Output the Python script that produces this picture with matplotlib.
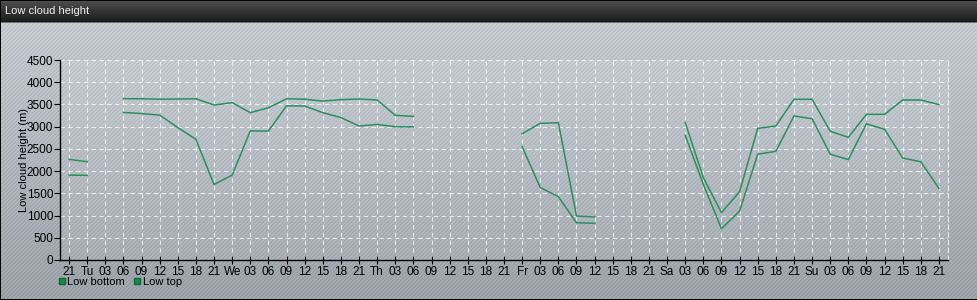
import numpy as np
import matplotlib
matplotlib.use("Agg")
import matplotlib.pyplot as plt
from matplotlib.lines import Line2D

nan = np.nan

tick_labels = ['21', 'Tu', '03', '06', '09', '12', '15', '18',
               '21', 'We', '03', '06', '09', '12', '15', '18',
               '21', 'Th', '03', '06', '09', '12', '15', '18',
               '21', 'Fr', '03', '06', '09', '12', '15', '18',
               '21', 'Sa', '03', '06', '09', '12', '15', '18',
               '21', 'Su', '03', '06', '09', '12', '15', '18', '21']

low_bottom = [1910, 1905, nan, 3320, 3295, 3260, 2980, 2715,
              1700, 1910, 2905, 2900, 3470, 3465, 3315, 3205,
              3015, 3050, 3000, 2995, nan, nan, nan, nan,
              nan, 2550, 1630, 1425, 840, 825, nan, nan,
              nan, nan, 2805, 1700, 705, 1100, 2380, 2445,
              3240, 3180, 2380, 2260, 3065, 2940, 2295, 2210, 1610]

low_top = [2265, 2210, nan, 3630, 3628, 3618, 3622, 3628,
           3487, 3540, 3315, 3425, 3628, 3618, 3575, 3608,
           3622, 3600, 3255, 3232, nan, nan, nan, nan,
           nan, 2843, 3075, 3088, 990, 968, nan, nan,
           nan, nan, 3090, 1853, 1065, 1538, 2962, 3015,
           3616, 3616, 2896, 2760, 3278, 3278, 3600, 3600, 3496]

W, H = 978, 300
fig = plt.figure(figsize=(W / 100, H / 100), dpi=100)

left, right, top, bottom = 60, 948, 60, 260

# background image: gradient with fine diagonal stripes and title bar
yy, xx = np.mgrid[0:H, 0:W]
t = yy / (H - 1)
base = np.stack([206 - 44 * t, 210 - 43 * t, 214 - 42 * t], axis=-1)
stripe = ((xx + yy) % 4 < 1.5).astype(float)
img = base - np.array([14, 11, 7]) * stripe[..., None]
inside = (xx >= left) & (xx <= right) & (yy >= top) & (yy <= bottom)
img = np.where(inside[..., None], img + 6, img)
bar = yy < 22
tb = yy / 22.0
bar_col = np.stack([78 - 52 * tb, 78 - 52 * tb, 78 - 52 * tb], axis=-1)
img = np.where(bar[..., None], bar_col, img)
img[22, :, :] = 110
img[0, :, :] = 0
img[-1, :, :] = 0
img[:, 0, :] = 0
img[:, -1, :] = 0
img = np.clip(img, 0, 255).astype(np.uint8)
bg = fig.add_axes([0, 0, 1, 1], zorder=-10)
bg.imshow(img, aspect='auto', interpolation='nearest')
bg.axis('off')

fig.text(5 / W, 1 - 11 / H, 'Low cloud height', color='#f0f0f0',
         fontsize=8, va='center', ha='left', family='Liberation Sans')

ax = fig.add_axes([left / W, 1 - bottom / H, (right - left) / W, (bottom - top) / H])
ax.set_facecolor('none')

x = np.arange(len(tick_labels))
green = '#2a9060'
ax.plot(x, low_bottom, color=green, lw=1.1)
ax.plot(x, low_top, color=green, lw=1.1)

ax.set_xlim(-0.5, len(tick_labels) - 0.5)
ax.set_ylim(0, 4500)
ax.set_xticks(x)
ax.set_xticklabels(tick_labels)
ax.set_yticks(np.arange(0, 4501, 500))
ax.grid(True, color='white', ls=(0, (4, 3)), lw=0.8, alpha=0.7)
ax.spines['top'].set_visible(False)
ax.spines['right'].set_color('white')
ax.spines['right'].set_alpha(0.7)
ax.spines['right'].set_linestyle((0, (4, 3)))
ax.spines['right'].set_linewidth(0.8)
for s in ['left', 'bottom']:
    ax.spines[s].set_color('black')
    ax.spines[s].set_linewidth(1.0)
ax.tick_params(axis='x', direction='inout', length=6, width=0.8, pad=1,
               labelsize=8.5, colors='black')
ax.tick_params(axis='y', direction='out', length=4, width=0.8, pad=1,
               labelsize=8.5, colors='black')
for lbl in ax.get_xticklabels() + ax.get_yticklabels():
    lbl.set_family('Liberation Sans')
ax.set_ylabel('Low cloud height (m)', fontsize=8, family='Liberation Sans')
ax.yaxis.set_label_coords((29 - left) / (right - left), 0.5)

handles = [Line2D([], [], marker='s', ls='none', color='#1a8a4a', markersize=5,
                  markeredgecolor='#0e6a30'),
           Line2D([], [], marker='s', ls='none', color='#1a8a4a', markersize=5,
                  markeredgecolor='#0e6a30')]
fig.legend(handles, ['Low bottom', 'Low top'], loc='center left',
           bbox_to_anchor=(56 / W, 1 - 282 / H), ncol=2, frameon=False,
           prop={'family': 'Liberation Sans', 'size': 8}, handletextpad=0.0,
           columnspacing=0.6, handlelength=1.0, borderaxespad=0, borderpad=0)

fig.savefig('out.png', dpi=100)
